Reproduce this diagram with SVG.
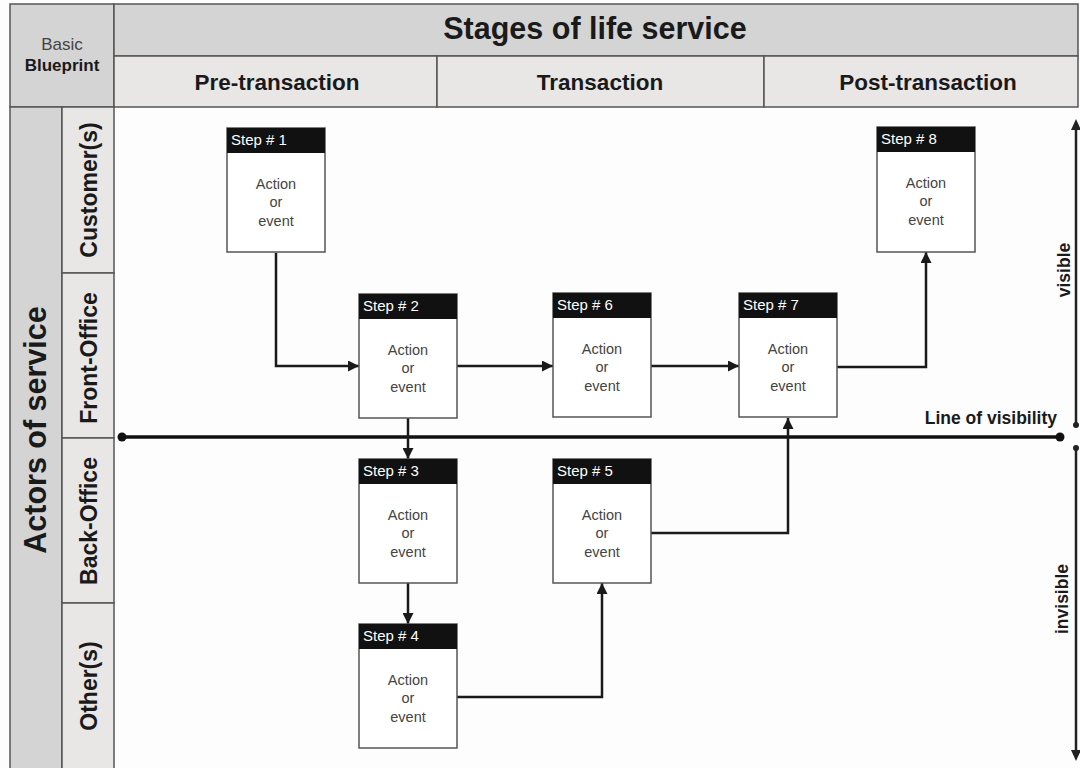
<svg xmlns="http://www.w3.org/2000/svg" width="1080" height="768" viewBox="0 0 1080 768">
  <defs>
    <style>
      text { font-family: "Liberation Sans", Arial, sans-serif; }
      .hdr1 { fill: #d4d4d4; stroke: #555; stroke-width: 1.5; }
      .hdr2 { fill: #e9e6e6; stroke: #555; stroke-width: 1.5; }
      .bold { font-weight: bold; fill: #1a1a1a; }
      .box { fill: #ffffff; stroke: #555; stroke-width: 1.5; }
      .cap { fill: #111; }
      .step { fill: #ffffff; font-size: 15px; }
      .act { fill: #444; font-size: 14.5px; text-anchor: middle; }
      .conn { fill: none; stroke: #1a1a1a; stroke-width: 2.5; }
    </style>
    <marker id="arrow" markerUnits="userSpaceOnUse" markerWidth="11" markerHeight="11" refX="11" refY="5.5" orient="auto">
      <path d="M0,0 L11,5.5 L0,11 z" fill="#1a1a1a"/>
    </marker>
  </defs>

  <rect x="0" y="0" width="1080" height="768" fill="#fdfdfd"/>

  <!-- header: stages of the service -->
  <g id="header">
    <rect class="hdr1" x="10" y="4" width="104" height="103"/>
    <text x="62" y="50" font-size="17" text-anchor="middle" fill="#444">Basic</text>
    <text class="bold" x="62" y="71" font-size="17" text-anchor="middle">Blueprint</text>

    <rect class="hdr1" x="114" y="4" width="964" height="52"/>
    <text class="bold" x="595" y="39" font-size="30.5" text-anchor="middle">Stages of life service</text>

    <rect class="hdr2" x="114" y="56" width="323" height="51"/>
    <rect class="hdr2" x="437" y="56" width="327" height="51"/>
    <rect class="hdr2" x="764" y="56" width="314" height="51"/>
    <text class="bold" x="277" y="90" font-size="22.5" text-anchor="middle">Pre-transaction</text>
    <text class="bold" x="600" y="90" font-size="22.5" text-anchor="middle">Transaction</text>
    <text class="bold" x="928" y="90" font-size="22.5" text-anchor="middle">Post-transaction</text>
  </g>

  <!-- actors of the service -->
  <g id="actors">
    <rect class="hdr1" x="10" y="107" width="52" height="663"/>
    <text class="bold" transform="translate(46,430) rotate(-90)" font-size="30.5" text-anchor="middle">Actors of service</text>

    <rect class="hdr2" x="62" y="107" width="52" height="166"/>
    <rect class="hdr2" x="62" y="273" width="52" height="165"/>
    <rect class="hdr2" x="62" y="438" width="52" height="165"/>
    <rect class="hdr2" x="62" y="603" width="52" height="167"/>
    <text class="bold" transform="translate(97,190) rotate(-90)" font-size="23" text-anchor="middle">Customer(s)</text>
    <text class="bold" transform="translate(97,358) rotate(-90)" font-size="23" text-anchor="middle">Front-Office</text>
    <text class="bold" transform="translate(97,521) rotate(-90)" font-size="23" text-anchor="middle">Back-Office</text>
    <text class="bold" transform="translate(97,686) rotate(-90)" font-size="23" text-anchor="middle">Other(s)</text>
  </g>

  <!-- line of visibility -->
  <g id="visibility">
    <line x1="122" y1="437" x2="1060" y2="437" stroke="#111" stroke-width="3.5"/>
    <circle cx="122" cy="437" r="4.5" fill="#111"/>
    <circle cx="1060" cy="437" r="4.5" fill="#111"/>
    <text class="bold" x="1057" y="424" font-size="17.5" text-anchor="end">Line of visibility</text>

    <line x1="1076" y1="128" x2="1076" y2="425" stroke="#222" stroke-width="2.5"/>
    <path d="M1071,130 L1076,119 L1081,130 z" fill="#222"/>
    <circle cx="1076" cy="425" r="3" fill="#222"/>
    <text class="bold" transform="translate(1070,270) rotate(-90)" font-size="17.5" text-anchor="middle">visible</text>

    <line x1="1076" y1="448" x2="1076" y2="752" stroke="#222" stroke-width="2.5"/>
    <circle cx="1076" cy="448" r="3" fill="#222"/>
    <path d="M1071,750 L1076,761 L1081,750 z" fill="#222"/>
    <text class="bold" transform="translate(1068,599) rotate(-90)" font-size="17.5" text-anchor="middle">invisible</text>
  </g>

  <!-- connectors -->
  <g id="connectors">
    <path class="conn" d="M276,253 V366 H359" marker-end="url(#arrow)"/>
    <path class="conn" d="M457,366 H553" marker-end="url(#arrow)"/>
    <path class="conn" d="M651,366 H739" marker-end="url(#arrow)"/>
    <path class="conn" d="M837,367 H926 V252" marker-end="url(#arrow)"/>
    <path class="conn" d="M408,418 V459" marker-end="url(#arrow)"/>
    <path class="conn" d="M408,583 V624" marker-end="url(#arrow)"/>
    <path class="conn" d="M457,697 H602 V583" marker-end="url(#arrow)"/>
    <path class="conn" d="M651,533 H788 V418" marker-end="url(#arrow)"/>
  </g>

  <!-- steps -->
  <g id="step1">
    <rect class="box" x="227" y="128" width="98" height="124"/>
    <rect class="cap" x="227" y="128" width="98" height="25"/>
    <text class="step" x="231" y="145">Step # 1</text>
    <text class="act" x="276" y="189">Action</text>
    <text class="act" x="276" y="207">or</text>
    <text class="act" x="276" y="226">event</text>
  </g>
  <g id="step2">
    <rect class="box" x="359" y="294" width="98" height="124"/>
    <rect class="cap" x="359" y="294" width="98" height="25"/>
    <text class="step" x="363" y="311">Step # 2</text>
    <text class="act" x="408" y="355">Action</text>
    <text class="act" x="408" y="373">or</text>
    <text class="act" x="408" y="392">event</text>
  </g>
  <g id="step3">
    <rect class="box" x="359" y="459" width="98" height="124"/>
    <rect class="cap" x="359" y="459" width="98" height="25"/>
    <text class="step" x="363" y="476">Step # 3</text>
    <text class="act" x="408" y="520">Action</text>
    <text class="act" x="408" y="538">or</text>
    <text class="act" x="408" y="557">event</text>
  </g>
  <g id="step4">
    <rect class="box" x="359" y="624" width="98" height="124"/>
    <rect class="cap" x="359" y="624" width="98" height="25"/>
    <text class="step" x="363" y="641">Step # 4</text>
    <text class="act" x="408" y="685">Action</text>
    <text class="act" x="408" y="703">or</text>
    <text class="act" x="408" y="722">event</text>
  </g>
  <g id="step5">
    <rect class="box" x="553" y="459" width="98" height="124"/>
    <rect class="cap" x="553" y="459" width="98" height="25"/>
    <text class="step" x="557" y="476">Step # 5</text>
    <text class="act" x="602" y="520">Action</text>
    <text class="act" x="602" y="538">or</text>
    <text class="act" x="602" y="557">event</text>
  </g>
  <g id="step6">
    <rect class="box" x="553" y="293" width="98" height="124"/>
    <rect class="cap" x="553" y="293" width="98" height="25"/>
    <text class="step" x="557" y="310">Step # 6</text>
    <text class="act" x="602" y="354">Action</text>
    <text class="act" x="602" y="372">or</text>
    <text class="act" x="602" y="391">event</text>
  </g>
  <g id="step7">
    <rect class="box" x="739" y="293" width="98" height="124"/>
    <rect class="cap" x="739" y="293" width="98" height="25"/>
    <text class="step" x="743" y="310">Step # 7</text>
    <text class="act" x="788" y="354">Action</text>
    <text class="act" x="788" y="372">or</text>
    <text class="act" x="788" y="391">event</text>
  </g>
  <g id="step8">
    <rect class="box" x="877" y="127" width="98" height="125"/>
    <rect class="cap" x="877" y="127" width="98" height="25"/>
    <text class="step" x="881" y="144">Step # 8</text>
    <text class="act" x="926" y="188">Action</text>
    <text class="act" x="926" y="206">or</text>
    <text class="act" x="926" y="225">event</text>
  </g>
</svg>
